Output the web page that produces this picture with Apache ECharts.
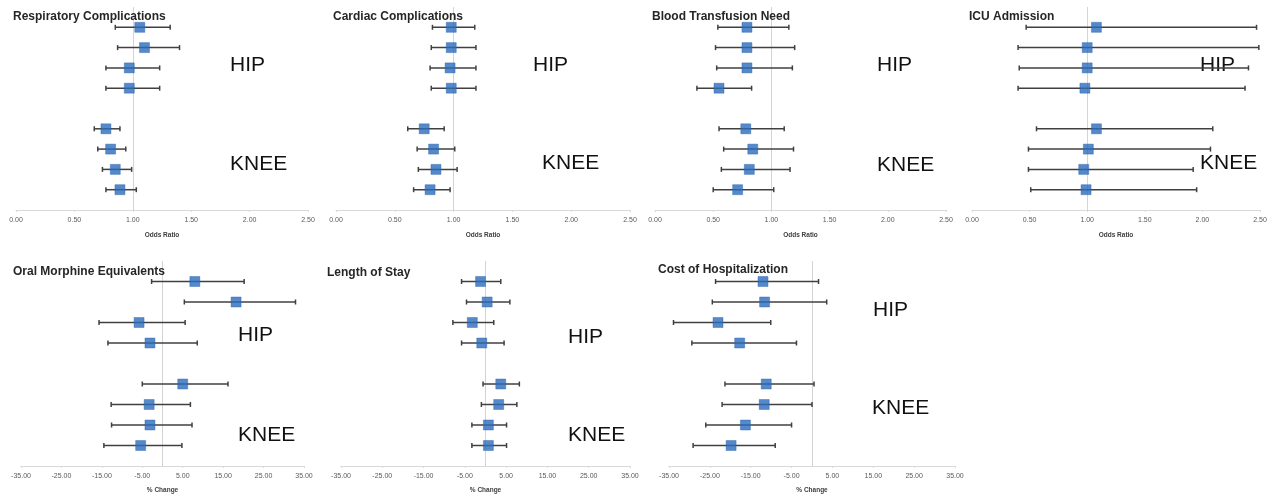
<!DOCTYPE html>
<html>
<head>
<meta charset="utf-8">
<script src="https://cdn.jsdelivr.net/npm/echarts@6/dist/echarts.min.js"></script>
<style>
html,body{margin:0;padding:0;background:#fff;}
#chart{width:1277px;height:495px;}
</style>
</head>
<body>
<div id="chart"></div>
<script>
// ---------- DATA ----------
const rowNames = ['Hip 1','Hip 2','Hip 3','Hip 4','Knee 1','Knee 2','Knee 3','Knee 4'];
const yCategories = ['', 'Knee 4','Knee 3','Knee 2','Knee 1',' ', 'Hip 4','Hip 3','Hip 2','Hip 1','  '];

const panelTitles = ['Respiratory Complications','Cardiac Complications','Blood Transfusion Need','ICU Admission',
                     'Oral Morphine Equivalents','Length of Stay','Cost of Hospitalization'];

const oddsTicks = [0, 0.5, 1.0, 1.5, 2.0, 2.5];
const pctTicks = [-35, -25, -15, -5, 5, 15, 25, 35];

// Respiratory Complications (odds ratio)
const respEst  = [1.06, 1.10, 0.97, 0.97, 0.77, 0.81, 0.85, 0.89];
const respLow  = [0.85, 0.87, 0.77, 0.77, 0.67, 0.70, 0.74, 0.77];
const respHigh = [1.32, 1.40, 1.23, 1.23, 0.89, 0.94, 0.99, 1.03];

// Cardiac Complications
const cardEst  = [0.98, 0.98, 0.97, 0.98, 0.75, 0.83, 0.85, 0.80];
const cardLow  = [0.82, 0.81, 0.80, 0.81, 0.61, 0.69, 0.70, 0.66];
const cardHigh = [1.18, 1.19, 1.19, 1.19, 0.92, 1.01, 1.03, 0.97];

// Blood Transfusion Need
const bloodEst  = [0.79, 0.79, 0.79, 0.55, 0.78, 0.84, 0.81, 0.71];
const bloodLow  = [0.54, 0.52, 0.53, 0.36, 0.55, 0.59, 0.57, 0.50];
const bloodHigh = [1.15, 1.20, 1.18, 0.83, 1.11, 1.19, 1.16, 1.02];

// ICU Admission
const icuEst  = [1.08, 1.00, 1.00, 0.98, 1.08, 1.01, 0.97, 0.99];
const icuLow  = [0.47, 0.40, 0.41, 0.40, 0.56, 0.49, 0.49, 0.51];
const icuHigh = [2.47, 2.49, 2.40, 2.37, 2.09, 2.07, 1.92, 1.95];

// Oral Morphine Equivalents (% change)
const omeEst  = [8.0, 18.2, -5.8, -3.1, 5.0, -3.3, -3.1, -5.4];
const omeLow  = [-2.7, 5.4, -15.7, -13.5, -5.0, -12.7, -12.6, -14.5];
const omeHigh = [20.2, 32.9, 5.6, 8.6, 16.2, 6.9, 7.3, 4.8];

// Length of Stay (% change)
const losEst  = [-1.2, 0.4, -3.2, -0.9, 3.7, 3.2, 0.7, 0.7];
const losLow  = [-5.8, -4.6, -7.9, -5.8, -0.6, -1.0, -3.3, -3.3];
const losHigh = [3.7, 5.9, 2.0, 4.5, 8.2, 7.6, 5.1, 5.1];

// Cost of Hospitalization (% change)
const costEst  = [-12.0, -11.6, -23.0, -17.7, -11.2, -11.7, -16.3, -19.8];
const costLow  = [-23.6, -24.4, -33.9, -29.4, -21.3, -22.0, -26.0, -29.1];
const costHigh = [1.6, 3.6, -10.1, -3.8, 0.5, 0.0, -5.0, -9.0];

// ---------- LAYOUT ----------
const panelData = [
  {est: respEst, low: respLow, high: respHigh, kind: 'odds'},
  {est: cardEst, low: cardLow, high: cardHigh, kind: 'odds'},
  {est: bloodEst, low: bloodLow, high: bloodHigh, kind: 'odds'},
  {est: icuEst, low: icuLow, high: icuHigh, kind: 'odds'},
  {est: omeEst, low: omeLow, high: omeHigh, kind: 'pct'},
  {est: losEst, low: losLow, high: losHigh, kind: 'pct'},
  {est: costEst, low: costLow, high: costHigh, kind: 'pct'}
];
const grids = [
  {left: 16,  width: 292, top: 7, height: 203},
  {left: 336, width: 294, top: 7, height: 203},
  {left: 655, width: 291, top: 7, height: 203},
  {left: 972, width: 288, top: 7, height: 203},
  {left: 21,  width: 283, top: 261, height: 209},
  {left: 341, width: 289, top: 261, height: 209},
  {left: 669, width: 286, top: 261, height: 209}
];
const titlePos = [[13,11],[333,11],[652,11],[969,11],[13,266],[327,267],[658,264]];
const hipPos  = [[230,65],[533,65],[877,65],[1200,65],[238,335],[568,337],[873,310]];
const kneePos = [[230,164],[542,163],[877,165],[1200,163],[238,435],[568,435],[872,408]];

const FONT = "'Liberation Sans', Arial, sans-serif";
const labelColor = '#595959';
const axisColor = '#d9d9d9';

const option = {
  backgroundColor: '#ffffff',
  animation: false,
  textStyle: {fontFamily: FONT},
  title: panelTitles.map((t, i) => ({
    text: t, left: titlePos[i][0], top: titlePos[i][1],
    textStyle: {fontSize: 12, fontWeight: 'bold', color: '#262626', fontFamily: FONT},
    padding: 0
  })),
  grid: grids.map(g => Object.assign({containLabel: false}, g)),
  xAxis: panelData.map((p, i) => {
    const isOdds = p.kind === 'odds';
    const ticks = isOdds ? oddsTicks : pctTicks;
    return {
      type: 'value', gridIndex: i,
      min: ticks[0], max: ticks[ticks.length - 1],
      interval: isOdds ? 0.5 : 10,
      name: isOdds ? 'Odds Ratio' : '% Change',
      nameLocation: 'middle', nameGap: isOdds ? 22 : 21,
      nameTextStyle: {fontSize: 6.5, fontWeight: 'bold', color: '#404040', fontFamily: FONT},
      axisLine: {show: true, onZero: false, lineStyle: {color: axisColor, width: 1}},
      axisTick: {show: true, length: 2, lineStyle: {color: axisColor}},
      splitLine: {show: false},
      axisLabel: {fontSize: 7, color: labelColor, margin: 7, fontFamily: FONT,
                  formatter: v => v.toFixed(2)}
    };
  }),
  yAxis: panelData.map((p, i) => ({
    type: 'category', gridIndex: i, data: yCategories, boundaryGap: false,
    axisLine: {show: false}, axisTick: {show: false}, axisLabel: {show: false}, splitLine: {show: false}
  })),
  graphic: [].concat(
    hipPos.map(pos => ({type: 'text', x: pos[0], y: pos[1],
      style: {text: 'HIP', fontSize: 21, fill: '#111111', fontFamily: FONT, verticalAlign: 'middle', align: 'left'}})),
    kneePos.map(pos => ({type: 'text', x: pos[0], y: pos[1],
      style: {text: 'KNEE', fontSize: 21, fill: '#111111', fontFamily: FONT, verticalAlign: 'middle', align: 'left'}}))
  ),
  series: []
};

panelData.forEach((p, i) => {
  const refValue = p.kind === 'odds' ? 1 : 0;
  // reference line (drawn underneath)
  option.series.push({
    type: 'line', xAxisIndex: i, yAxisIndex: i, z: 1, data: [], silent: true,
    markLine: {
      silent: true, symbol: 'none', label: {show: false}, z: 1,
      lineStyle: {color: '#d4d4d4', width: 1, type: 'solid'},
      data: [{xAxis: refValue}]
    }
  });
  // confidence interval bars
  option.series.push({
    type: 'custom', xAxisIndex: i, yAxisIndex: i, z: 2,
    data: rowNames.map((r, k) => [p.low[k], p.high[k], r]),
    encode: {x: [0, 1], y: 2},
    renderItem: function (params, api) {
      const yIdx = api.value(2);
      const a = api.coord([api.value(0), yIdx]);
      const b = api.coord([api.value(1), yIdx]);
      const cap = 2.5;
      const st = {stroke: '#404040', lineWidth: 1.5};
      return {type: 'group', children: [
        {type: 'line', shape: {x1: a[0], y1: a[1], x2: b[0], y2: b[1]}, style: st},
        {type: 'line', shape: {x1: a[0], y1: a[1] - cap, x2: a[0], y2: a[1] + cap}, style: st},
        {type: 'line', shape: {x1: b[0], y1: b[1] - cap, x2: b[0], y2: b[1] + cap}, style: st}
      ]};
    }
  });
  // point estimates
  option.series.push({
    type: 'scatter', xAxisIndex: i, yAxisIndex: i, z: 3,
    symbol: 'rect', symbolSize: 10,
    itemStyle: {color: '#2a6cbc', borderColor: '#2462ac', borderWidth: 0.5},
    data: rowNames.map((r, k) => [p.est[k], r])
  });
});

const chart = echarts.init(document.getElementById('chart'), null, {renderer: 'canvas'});
chart.setOption(option);
</script>
</body>
</html>
